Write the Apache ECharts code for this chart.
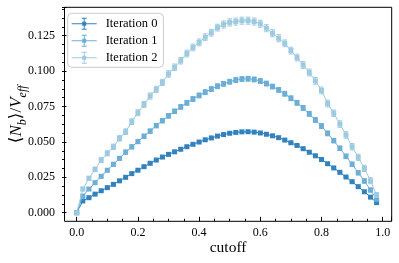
<!DOCTYPE html>
<html><head><meta charset="utf-8">
<script src="https://cdn.jsdelivr.net/npm/echarts@6/dist/echarts.min.js"></script>
<style>html,body{margin:0;padding:0;background:#fff}#c{width:399px;height:263px}</style>
</head><body><div id="c"></div>
<script>
const cutoff = [
  0.00,0.02,0.04,0.06,0.08,0.10,0.12,0.14,0.16,0.18,
  0.20,0.22,0.24,0.26,0.28,0.30,0.32,0.34,0.36,0.38,
  0.40,0.42,0.44,0.46,0.48,0.50,0.52,0.54,0.56,0.58,
  0.60,0.62,0.64,0.66,0.68,0.70,0.72,0.74,0.76,0.78,
  0.80,0.82,0.84,0.86,0.88,0.90,0.92,0.94,0.96,0.98];
const iter0 = [
  0.0000,0.0083,0.0106,0.0131,0.0155,0.0177,0.0200,0.0225,0.0250,0.0276,
  0.0300,0.0325,0.0349,0.0372,0.0393,0.0412,0.0430,0.0448,0.0466,0.0483,
  0.0499,0.0515,0.0528,0.0541,0.0552,0.0561,0.0567,0.0571,0.0572,0.0569,
  0.0563,0.0554,0.0543,0.0530,0.0513,0.0494,0.0475,0.0452,0.0427,0.0402,
  0.0376,0.0346,0.0316,0.0285,0.0252,0.0219,0.0184,0.0148,0.0110,0.0071];
const iter1 = [
  0.0000,0.0118,0.0167,0.0212,0.0257,0.0300,0.0342,0.0384,0.0428,0.0465,
  0.0502,0.0540,0.0576,0.0615,0.0650,0.0684,0.0716,0.0747,0.0776,0.0803,
  0.0828,0.0851,0.0873,0.0893,0.0910,0.0925,0.0937,0.0944,0.0946,0.0941,
  0.0930,0.0912,0.0891,0.0867,0.0840,0.0808,0.0776,0.0740,0.0698,0.0655,
  0.0612,0.0560,0.0509,0.0455,0.0398,0.0342,0.0282,0.0224,0.0160,0.0095];
const iter2 = [
  0.0000,0.0167,0.0243,0.0306,0.0372,0.0419,0.0465,0.0525,0.0572,0.0643,
  0.0706,0.0765,0.0824,0.0871,0.0920,0.0980,0.1027,0.1073,0.1124,0.1167,
  0.1203,0.1239,0.1271,0.1307,0.1329,0.1344,0.1350,0.1356,0.1356,0.1350,
  0.1334,0.1303,0.1267,0.1232,0.1196,0.1145,0.1096,0.1043,0.0990,0.0931,
  0.0863,0.0771,0.0702,0.0626,0.0549,0.0466,0.0391,0.0313,0.0226,0.0125];
const err0 = [
  0,0.0003,0.0003,0.0003,0.0003,0.0003,0.0003,0.0003,0.0003,0.0004,
  0.0004,0.0004,0.0004,0.0004,0.0004,0.0004,0.0004,0.0004,0.0004,0.0004,
  0.0004,0.0004,0.0004,0.0004,0.0004,0.0004,0.0004,0.0004,0.0004,0.0004,
  0.0004,0.0004,0.0004,0.0004,0.0004,0.0004,0.0004,0.0004,0.0004,0.0004,
  0.0004,0.0004,0.0004,0.0004,0.0004,0.0004,0.0004,0.0003,0.0003,0.0003];
const err1 = [
  0,0.0009,0.0010,0.0011,0.0012,0.0012,0.0013,0.0013,0.0014,0.0014,
  0.0014,0.0015,0.0015,0.0015,0.0016,0.0016,0.0016,0.0016,0.0017,0.0017,
  0.0017,0.0017,0.0017,0.0017,0.0017,0.0017,0.0017,0.0017,0.0017,0.0017,
  0.0017,0.0017,0.0017,0.0017,0.0017,0.0017,0.0017,0.0017,0.0017,0.0017,
  0.0017,0.0017,0.0016,0.0016,0.0016,0.0016,0.0015,0.0015,0.0014,0.0012];
const err2 = [
  0,0.0012,0.0014,0.0016,0.0017,0.0018,0.0019,0.0019,0.0020,0.0020,
  0.0021,0.0021,0.0022,0.0022,0.0022,0.0023,0.0023,0.0023,0.0024,0.0024,
  0.0024,0.0024,0.0024,0.0024,0.0025,0.0025,0.0025,0.0025,0.0025,0.0025,
  0.0025,0.0025,0.0025,0.0025,0.0024,0.0024,0.0024,0.0024,0.0024,0.0024,
  0.0024,0.0024,0.0023,0.0023,0.0023,0.0023,0.0022,0.0022,0.0021,0.0018];
const seriesNames = ['Iteration 0','Iteration 1','Iteration 2'];
const xTickLabels = ['0.0','0.2','0.4','0.6','0.8','1.0'];
const yTickLabels = ['0.000','0.025','0.050','0.075','0.100','0.125'];

const values = [iter0, iter1, iter2];
const errors = [err0, err1, err2];
const colors = ['#3182bd','#6baed6','#9ecae1'];
const FONT = "'Liberation Serif','DejaVu Serif',serif";
const legendIcon = 'path://M0,5.5H25V6.5H0Z M10.5,4H14.5V8H10.5Z M12,0.5H13V11.5H12Z M10,0H15V1H10Z M10,11H15V12H10Z';

const series = [];
values.forEach((vals, i) => {
  const color = colors[i];
  series.push({
    type: 'custom', xAxisIndex: 1, yAxisIndex: 1, z: 3 + i * 2, silent: true, clip: false,
    data: cutoff.map((x, k) => [x, vals[k], errors[i][k]]),
    renderItem(params, api) {
      const x = api.value(0), y = api.value(1), e = api.value(2);
      if (!e) return null;
      const lo = api.coord([x, y - e]), hi = api.coord([x, y + e]);
      const w = 2.3;
      const st = { stroke: color, lineWidth: 1, fill: null };
      return { type: 'group', children: [
        { type: 'line', shape: { x1: lo[0], y1: lo[1], x2: hi[0], y2: hi[1] }, style: st },
        { type: 'line', shape: { x1: lo[0] - w, y1: lo[1], x2: lo[0] + w, y2: lo[1] }, style: st },
        { type: 'line', shape: { x1: hi[0] - w, y1: hi[1], x2: hi[0] + w, y2: hi[1] }, style: st }
      ]};
    }
  });
  series.push({
    type: 'line', name: seriesNames[i], xAxisIndex: 1, yAxisIndex: 1, z: 4 + i * 2, clip: false,
    data: cutoff.map((x, k) => [x, vals[k]]),
    symbol: 'rect', symbolSize: 5,
    lineStyle: { color: color, width: 1 },
    itemStyle: { color: color }
  });
});

const chart = echarts.init(document.getElementById('c'), null, { renderer: 'canvas' });
const hidden = { show: false };
const tickStyle = { show: true, inside: true, length: 4.5, lineStyle: { color: '#000', width: 1 } };
const minorStyle = { show: true, splitNumber: 4, length: 2.5, lineStyle: { color: '#000', width: 1 } };
chart.setOption({
  animation: false,
  backgroundColor: '#fff',
  grid: [
    { left: 62, right: 7.3, top: 7.3, bottom: 41.7, show: true, borderColor: '#000', borderWidth: 1, backgroundColor: 'transparent' },
    { left: 76.7, right: 7.3, top: 7.3, bottom: 50.3 },
    { left: 76.7, right: 7.3, top: 7.3, bottom: 41.7 },
    { left: 62, right: 7.3, top: 7.3, bottom: 50.3 }
  ],
  xAxis: [
    { gridIndex: 0, type: 'value', min: 0, max: 1, axisLine: hidden, axisTick: hidden, axisLabel: hidden, splitLine: hidden,
      name: 'cutoff', nameLocation: 'middle', nameGap: 19,
      nameTextStyle: { fontFamily: FONT, fontSize: 15.5, color: '#000' } },
    { gridIndex: 1, type: 'value', min: 0, max: 1.0294, axisLine: hidden, axisTick: hidden, axisLabel: hidden, splitLine: hidden },
    { gridIndex: 2, type: 'value', min: 0, max: 1.0294, interval: 0.2,
      axisLine: hidden, splitLine: hidden, axisTick: tickStyle, minorTick: minorStyle,
      axisLabel: { show: true, showMaxLabel: false, margin: 6, fontFamily: FONT, fontSize: 12, color: '#000',
        formatter: v => { const k = Math.round(v / 0.2); return Math.abs(v - k * 0.2) < 1e-6 ? xTickLabels[k] : ''; } } },
    { gridIndex: 3, type: 'value', min: 0, max: 1, show: false }
  ],
  yAxis: [
    { gridIndex: 0, type: 'value', min: 0, max: 1, axisLine: hidden, axisTick: hidden, axisLabel: hidden, splitLine: hidden,
      name: '{u|⟨}{i|N}{s|b}{u|⟩/}{i|V}{s|eff}', nameLocation: 'middle', nameGap: 36, nameRotate: 90,
      nameTextStyle: { fontFamily: FONT, fontSize: 17, color: '#000',
        rich: {
          u: { fontFamily: FONT, fontSize: 17, color: '#000' },
          i: { fontFamily: FONT, fontSize: 17, fontStyle: 'italic', color: '#000' },
          s: { fontFamily: FONT, fontSize: 12, fontStyle: 'italic', color: '#000', verticalAlign: 'bottom', lineHeight: 24 }
        } } },
    { gridIndex: 1, type: 'value', min: 0, max: 0.14506, axisLine: hidden, axisTick: hidden, axisLabel: hidden, splitLine: hidden },
    { gridIndex: 2, type: 'value', min: 0, max: 1, show: false },
    { gridIndex: 3, type: 'value', min: 0, max: 0.14506, interval: 0.025,
      axisLine: hidden, splitLine: hidden, axisTick: tickStyle, minorTick: minorStyle,
      axisLabel: { show: true, showMaxLabel: false, margin: 7, fontFamily: FONT, fontSize: 12, color: '#000',
        formatter: v => { const k = Math.round(v / 0.025); return Math.abs(v - k * 0.025) < 1e-7 ? yTickLabels[k] : ''; } } }
  ],
  legend: {
    orient: 'vertical', left: 67.7, top: 13.3, padding: [4, 6, 3, 4], itemGap: 4,
    itemWidth: 25, itemHeight: 12, selectedMode: false,
    itemStyle: { borderWidth: 0 },
    borderColor: '#cccccc', borderWidth: 1, borderRadius: 4, backgroundColor: 'rgba(255,255,255,0.8)',
    textStyle: { fontFamily: FONT, fontSize: 12.5, color: '#000', padding: [0, 0, 0, 4] },
    data: seriesNames.map(n => ({ name: n, icon: legendIcon }))
  },
  series: series
});
</script></body></html>
